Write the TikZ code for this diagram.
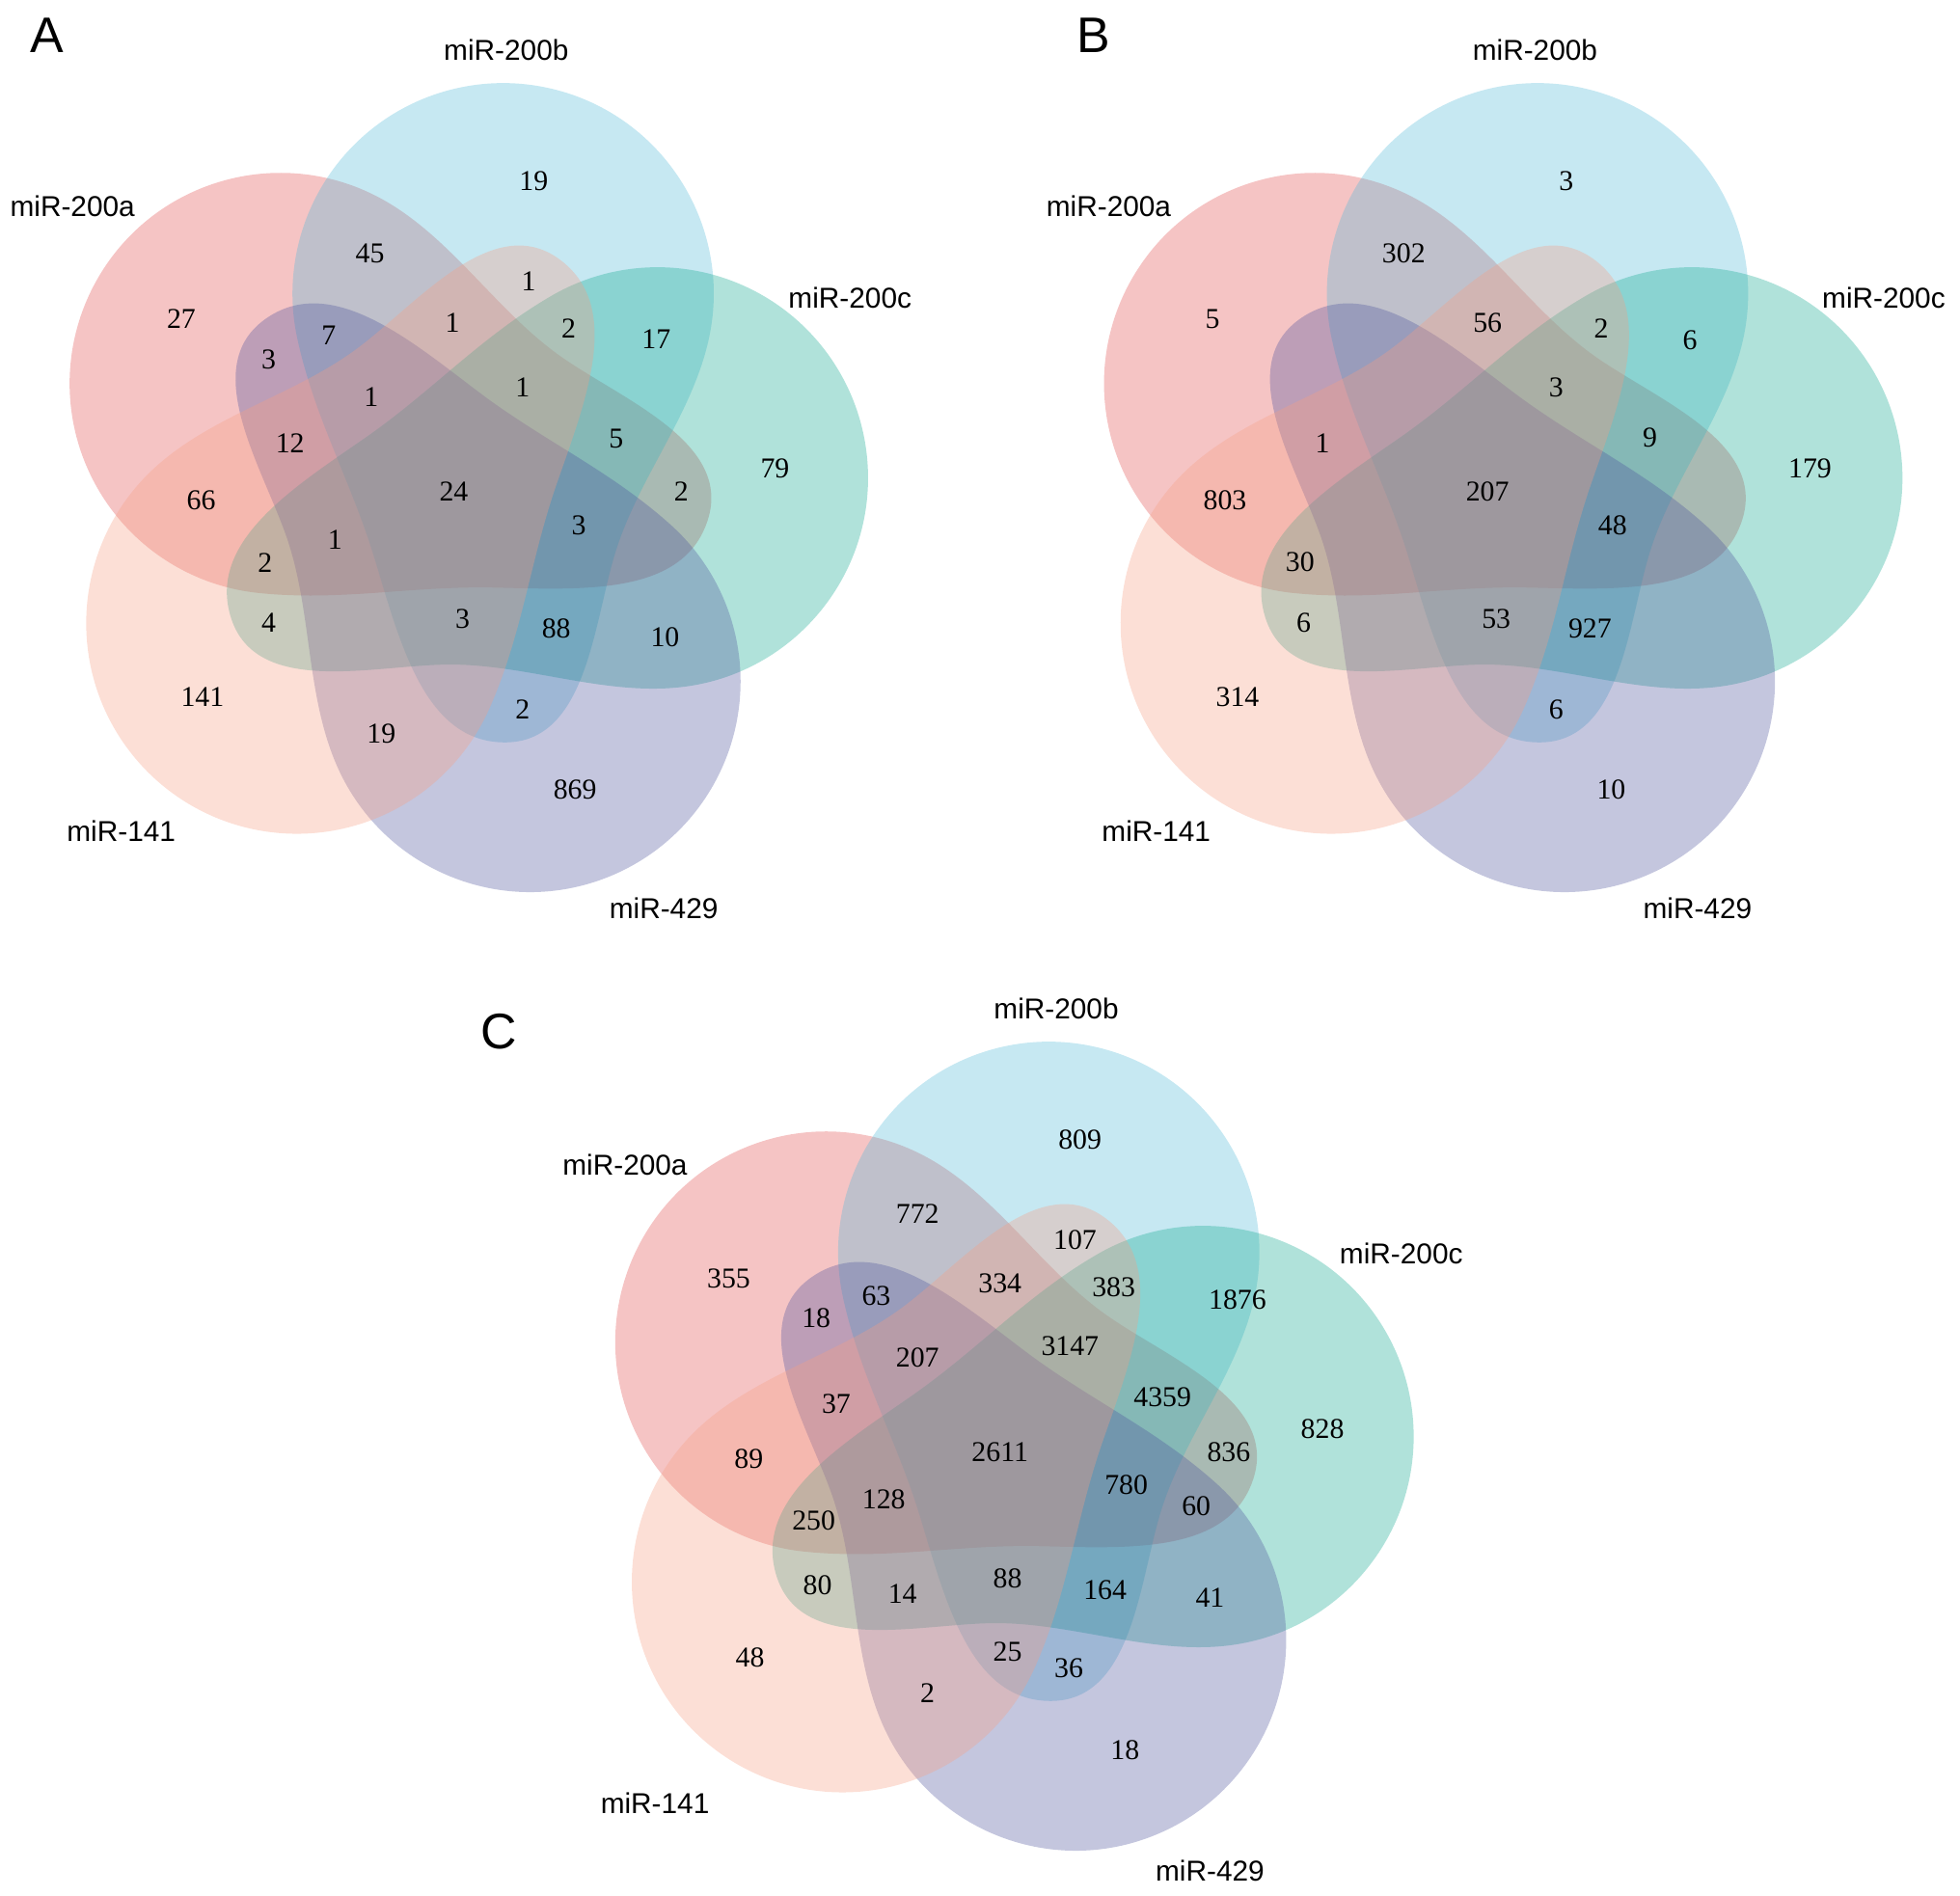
\documentclass[tikz,border=0pt]{standalone}
\usepackage{fontspec}
\setmainfont{Liberation Serif}
\setsansfont{Liberation Sans}
\usepackage{xcolor}
\usepackage{tikz}
\definecolor{col200a}{RGB}{225,76,76}
\definecolor{col200b}{RGB}{82,185,216}
\definecolor{col200c}{RGB}{16,167,143}
\definecolor{col429}{RGB}{76,82,155}
\definecolor{col141}{RGB}{246,158,131}

% one teardrop set, drawn round the flower centre #1, turned by #2
\newcommand{\petal}[3]{%
  \fill[#3, shift={#1}, x=0.5pt, y=0.5pt, rotate=#2]
    (204.5,123.6) arc[start angle=-12, end angle=192, radius=84.25pt]
    .. controls (-111.4,59.1) and (-81.9,9.0) .. (-62.8,-54.4)
    .. controls (-42.5,-121.6) and (-22.8,-200.4) .. (41.2,-200.4)
    .. controls (106.2,-200.4) and (111.8,-106.8) .. (129.2,-49.4)
    .. controls (147.5,10.9) and (191.4,62.0) .. (204.5,123.6) -- cycle;}

\newcommand{\flower}[1]{%
  \petal{#1}{72}{set200a}
  \petal{#1}{0}{set200b}
  \petal{#1}{-72}{set200c}
  \petal{#1}{-144}{set429}
  \petal{#1}{144}{set141}}

\begin{document}
\begin{tikzpicture}[x=0.5pt, y=-0.5pt]
\tikzset{
    set200a/.style = {fill=col200a, fill opacity=0.33},
    set200b/.style = {fill=col200b, fill opacity=0.33},
    set200c/.style = {fill=col200c, fill opacity=0.33},
    set429/.style  = {fill=col429, fill opacity=0.33},
    set141/.style  = {fill=col141, fill opacity=0.33},
    num/.style     = {font=\fontsize{11.5}{12}\selectfont, inner sep=0pt},
    setname/.style = {font=\sffamily\fontsize{11.5}{12}\selectfont, inner sep=0pt},
    panel/.style   = {font=\sffamily\fontsize{20}{22}\selectfont, inner sep=0pt}
}
\useasboundingbox (0,0) rectangle (1568,1517);

\coordinate (centA) at (362.8,393.6);
\coordinate (centB) at (1190.3,393.6);
\coordinate (centC) at (799.3,1160.6);

\flower{(centA)}
\flower{(centB)}
\flower{(centC)}

% panel A
\node[panel] (lblA) at (38,28) {A};
\node[setname] (A-200b) at (405,40) {miR-200b};
\node[setname] (A-200a) at (58,165) {miR-200a};
\node[setname] (A-200c) at (680,238) {miR-200c};
\node[setname] (A-141) at (97,665) {miR-141};
\node[setname] (A-429) at (531,727) {miR-429};
\foreach \x/\y/\n [count=\i] in {427/145/19, 296/203/45, 145/255/27, 423/225/1,
    263/268/7, 362/258/1, 455/263/2, 525/271/17, 215/288/3, 297/318/1, 418/310/1,
    232/355/12, 493/351/5, 620/375/79, 161/400/66, 363/393/24, 545/393/2,
    463/420/3, 268/432/1, 212/450/2, 215/498/4, 370/495/3, 445/503/88,
    532/510/10, 162/558/141, 305/587/19, 418/568/2, 460/632/869}
  \node[num] (A-\i) at (\x,\y) {\n};

% panel B
\node[panel] (lblB) at (875,28) {B};
\node[setname] (B-200b) at (1228,40) {miR-200b};
\node[setname] (B-200a) at (887,165) {miR-200a};
\node[setname] (B-200c) at (1507,238) {miR-200c};
\node[setname] (B-141) at (925,665) {miR-141};
\node[setname] (B-429) at (1358,727) {miR-429};
\foreach \x/\y/\n [count=\i] in {1253/145/3, 1123/203/302, 970/255/5, 1190/258/56,
    1281/263/2, 1352/272/6, 1245/310/3, 1058/355/1, 1320/350/9, 1448/375/179,
    980/400/803, 1190/393/207, 1290/420/48, 1040/450/30, 1043/498/6,
    1197/495/53, 1272/503/927, 990/558/314, 1245/568/6, 1289/632/10}
  \node[num] (B-\i) at (\x,\y) {\n};

% panel C
\node[panel] (lblC) at (399,825) {C};
\node[setname] (C-200b) at (845,807) {miR-200b};
\node[setname] (C-200a) at (500,932) {miR-200a};
\node[setname] (C-200c) at (1121,1003) {miR-200c};
\node[setname] (C-141) at (524,1443) {miR-141};
\node[setname] (C-429) at (968,1497) {miR-429};
\foreach \x/\y/\n [count=\i] in {864/912/809, 734/971/772, 583/1023/355, 860/992/107,
    701/1037/63, 800/1027/334, 891/1030/383, 990/1040/1876, 653/1055/18,
    734/1086/207, 856/1077/3147, 930/1118/4359, 669/1123/37, 1058/1143/828,
    599/1167/89, 800/1162/2611, 983/1162/836, 707/1200/128, 901/1188/780,
    957/1205/60, 651/1217/250, 654/1268/80, 722/1275/14, 806/1263/88,
    884/1272/164, 968/1278/41, 600/1326/48, 806/1322/25, 855/1335/36,
    742/1355/2, 900/1400/18}
  \node[num] (C-\i) at (\x,\y) {\n};
\end{tikzpicture}
\end{document}
